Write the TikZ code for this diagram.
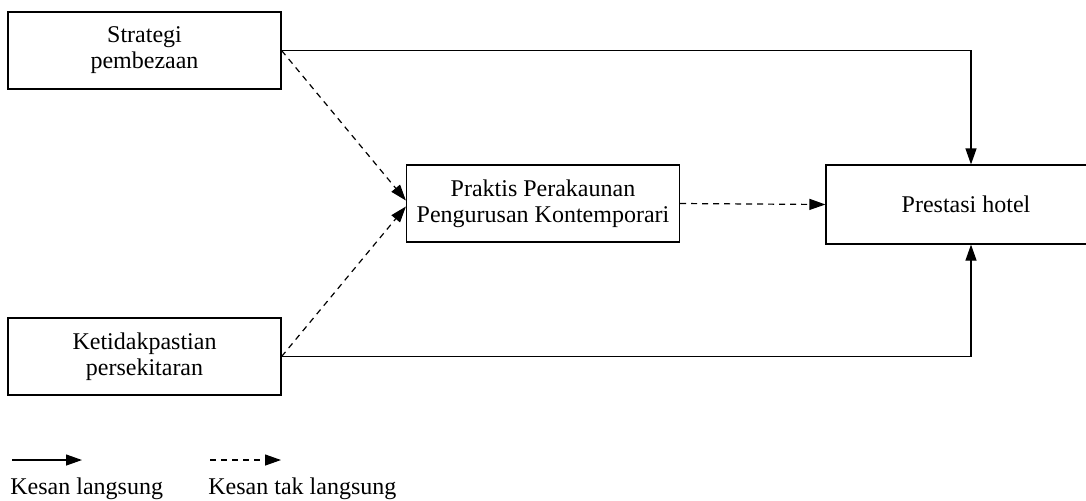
\documentclass[tikz,border=0pt]{standalone}
\usepackage{fontspec}
\setmainfont{Liberation Serif}
\usepackage{tikz}
\usetikzlibrary{positioning,calc,arrows.meta}

\begin{document}
\begin{tikzpicture}[x=0.5pt,y=-0.5pt]
          \tikzstyle{every node}=[font=\fontsize{12}{13}\selectfont]
          \tikzstyle{kotak}=[draw, line width=0.6pt, minimum width=136.5pt, minimum height=38.5pt, align=center, inner sep=0pt]
          \tikzstyle{langsung}=[line width=0.6pt, -{Triangle[length=8pt,width=5.5pt]}]
          \tikzstyle{taklangsung}=[langsung, dash pattern=on 3pt off 2.5pt]

      \useasboundingbox (0,0) rectangle (1086,500);

      \node[kotak] (strategi) at (144.5, 50.5) {Strategi\\pembezaan};
      \node[kotak] (ketidak) at (144.5, 356.5) {Ketidakpastian\\persekitaran};
      \node[kotak] (praktis) at (543, 203.5) {Praktis Perakaunan\\Pengurusan Kontemporari};
      \node[kotak, minimum width=140pt, minimum height=39.5pt] (prestasi) at (966, 204.5) {Prestasi hotel};

      \draw[langsung] (strategi.east) -| ([xshift=2.5pt]prestasi.north);
      \draw[langsung] (ketidak.east) -| ([xshift=2.5pt]prestasi.south);

      \draw[taklangsung] (strategi.east) -- ([yshift=1.5pt]praktis.west);
      \draw[taklangsung] (ketidak.east) -- ([yshift=-1.5pt]praktis.west);
      \draw[taklangsung] (praktis.east) -- (prestasi.west);

      % petunjuk
      \coordinate (lsA) at (12, 460);
      \coordinate (lsB) at (82, 460);
      \coordinate (tlA) at (210, 460);
      \coordinate (tlB) at (281, 460);
      \draw[langsung] (lsA) -- (lsB);
      \draw[taklangsung] (tlA) -- (tlB);
      \node[anchor=base west, inner sep=0pt] (kesan1) at (10, 494) {Kesan langsung};
      \node[anchor=base west, inner sep=0pt] (kesan2) at (208, 494) {Kesan tak langsung};

\end{tikzpicture}
\end{document}
